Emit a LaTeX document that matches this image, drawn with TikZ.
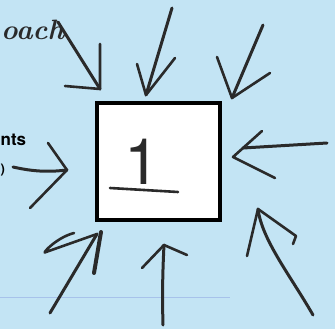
\documentclass[tikz,border=0pt]{standalone}
\usepackage{fontspec}
\setsansfont{TeX Gyre Heros}
\usetikzlibrary{positioning}
\definecolor{paperblue}{HTML}{C3E4F4}
\definecolor{inkgray}{HTML}{2A2A2A}
\definecolor{ruleblue}{HTML}{A7C2EA}

\begin{document}
\begin{tikzpicture}[
  x=1pt, y=-1pt,
  pen/.style={draw=inkgray, line width=3pt, line cap=round, line join=round},
  barb/.style={pen, line width=2.6pt},
  frame/.style={draw=black, line width=4pt, fill=white, minimum width=123pt, minimum height=117pt, inner sep=0pt},
  scrap/.style={inner sep=0pt, text=inkgray},
]
  \fill[paperblue] (0,0) rectangle (335,329);
  \useasboundingbox (0,0) rectangle (335,329);
  \clip (0,0) rectangle (335,329);
  \draw[ruleblue, line width=0.6pt] (0,297) -- (230,297);

  % words at the left edge
  \node[scrap, anchor=base west, font=\fontsize{28}{28}\selectfont\bfseries\itshape] (oach) at (1,40) {oach};
  \node[scrap, anchor=base west, font=\fontsize{17}{17}\selectfont\sffamily\bfseries, text=black] (nts) at (0.5,146) {nts};
  \node[scrap, anchor=base west, font=\fontsize{13}{13}\selectfont\sffamily\bfseries, text=black] (cut) at (0.5,173) {)};

  % the box
  \node[frame] (box) at (158.5,161.5) {};
  \node[scrap, anchor=base, font=\fontsize{64}{64}\selectfont\sffamily] (one) at (142,184) {1};
  \draw[pen, line width=2.6pt] (110,188) -- (178,192);

  % arrow ends
  \coordinate (nwTail) at (58,22);   \coordinate (nwTip) at (100,89);
  \coordinate (nwL) at (65,86);      \coordinate (nwR) at (100,44);
  \coordinate (nTail) at (172,8);    \coordinate (nTip) at (146,95);
  \coordinate (nL) at (137,64);      \coordinate (nR) at (175,58);
  \coordinate (neTail) at (263,25);  \coordinate (neTip) at (232,98);
  \coordinate (neL) at (217,57);     \coordinate (neR) at (270,73);
  \coordinate (wTail) at (13,167);   \coordinate (wTip) at (67,170);
  \coordinate (wL) at (48,143);      \coordinate (wR) at (30,208);
  \coordinate (eTail) at (327,143);  \coordinate (eTip) at (233,157);
  \coordinate (eL) at (262,131);     \coordinate (eR) at (275,178);
  \coordinate (swTail) at (50,313);  \coordinate (swTip) at (97,234);
  \coordinate (swL) at (46,252);     \coordinate (swR) at (94,273);
  \coordinate (sTail) at (163,325);  \coordinate (sTip) at (164,245);
  \coordinate (sL) at (142,268);     \coordinate (sR) at (187,255);
  \coordinate (seTail) at (313,315); \coordinate (seTip) at (258,209);
  \coordinate (seL) at (247,256);    \coordinate (seR) at (296,236);

  % shafts
  \draw[pen] (nwTail) -- (nwTip);
  \draw[pen] (nTail) -- (nTip);
  \draw[pen] (neTail) -- (neTip);
  \draw[pen] (wTail) .. controls (35,172) and (50,172) .. (wTip);
  \draw[pen] (eTail) -- (243,148);
  \draw[pen] (swTail) -- (swTip);
  \draw[pen] (sTail) .. controls (162,290) and (163,265) .. (sTip);
  \draw[pen] (seTail) .. controls (290,275) and (262,240) .. (seTip);

  % heads
  \draw[barb] (nwL) -- (nwTip) -- (nwR);
  \draw[barb] (nL) -- (nTip) -- (nR);
  \draw[barb] (neL) -- (neTip) -- (neR);
  \draw[barb] (wL) -- (wTip) -- (wR);
  \draw[barb] (eL) -- (eTip) -- (eR);
  \draw[barb] (swTip) -- (swL) .. controls (40,256) and (55,238) .. (74,233);
  \draw[barb, line width=4pt] (101,232) -- (swR);
  \draw[barb] (sL) -- (sTip) -- (sR);
  \draw[barb] (seL) -- (seTip) -- (seR) -- (293,244);
\end{tikzpicture}
\end{document}
